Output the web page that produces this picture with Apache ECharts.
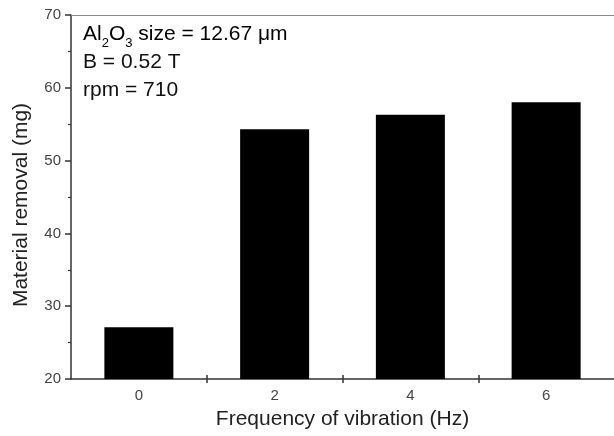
<!DOCTYPE html>
<html>
<head>
<meta charset="utf-8">
<script src="https://cdn.jsdelivr.net/npm/echarts@6/dist/echarts.min.js"></script>
<style>
  html, body { margin: 0; padding: 0; background: #fff; }
  #main { width: 614px; height: 436px; }
</style>
</head>
<body>
<div id="main"></div>
<script>
// frequency (Hz) and material removal (mg)
var freq = [0, 2, 4, 6];
var removal = [27.1, 54.3, 56.3, 58.0];
var xLabels = [0, 2, 4, 6];
var xTicks = [1, 3, 5];
var noteLines = ['B = 0.52 T', 'rpm = 710'];

var font = '"Liberation Sans", Arial, sans-serif';
var barData = [];
for (var i = 0; i < freq.length; i++) {
    barData.push([freq[i], removal[i]]);
}

var myChart = echarts.init(document.getElementById('main'));
var option = {
    backgroundColor: '#fff',
    animation: false,
    grid: { left: 71, top: 15, bottom: 57, right: -8 },
    xAxis: [
        {
            type: 'value', min: -1, max: 7, position: 'bottom',
            name: 'Frequency of vibration (Hz)',
            nameLocation: 'middle', nameGap: 30,
            nameTextStyle: { fontFamily: font, fontSize: 21, color: '#222' },
            axisLine: { onZero: false, lineStyle: { color: '#333', width: 1.5 } },
            axisTick: { customValues: xTicks, length: 4, lineStyle: { color: '#333', width: 1.5 } },
            axisLabel: { customValues: xLabels, margin: 9, fontFamily: font, fontSize: 15, color: '#444' },
            splitLine: { show: false }
        },
        {
            // inner half of the crossing ticks
            type: 'value', min: -1, max: 7, position: 'bottom',
            axisLine: { show: false, onZero: false },
            axisTick: { customValues: xTicks, inside: true, length: 4, lineStyle: { color: '#333', width: 1.5 } },
            axisLabel: { show: false },
            splitLine: { show: false }
        },
        {
            type: 'value', min: -1, max: 7, position: 'top',
            axisLine: { onZero: false, lineStyle: { color: '#888', width: 1.2 } },
            axisTick: { show: false },
            axisLabel: { show: false },
            splitLine: { show: false }
        }
    ],
    yAxis: {
        type: 'value', min: 20, max: 70, interval: 10,
        name: 'Material removal (mg)',
        nameLocation: 'middle', nameGap: 39,
        nameTextStyle: { fontFamily: font, fontSize: 21, color: '#222', padding: [0, 16, 0, 0] },
        axisLine: { show: true, onZero: false, lineStyle: { color: '#333', width: 1.5 } },
        axisTick: { length: 6, lineStyle: { color: '#333', width: 1.5 } },
        minorTick: { show: true, splitNumber: 2, length: 3, lineStyle: { color: '#333', width: 1.2 } },
        axisLabel: { margin: 10, fontFamily: font, fontSize: 15, color: '#444' },
        splitLine: { show: false }
    },
    graphic: [
        {
            type: 'text', left: 83, top: 24,
            style: {
                text: '{n|Al}{s|2}{n|O}{s|3}{n| size = 12.67 μm}',
                rich: {
                    n: { fontFamily: font, fontSize: 21, color: '#111', lineHeight: 25, verticalAlign: 'bottom' },
                    s: { fontFamily: font, fontSize: 13, color: '#111', lineHeight: 25, verticalAlign: 'bottom', padding: [0, 0, -5, 0] }
                }
            }
        },
        {
            type: 'text', left: 83, top: 52,
            style: { text: noteLines[0], fontFamily: font, fontSize: 21, fill: '#111' }
        },
        {
            type: 'text', left: 83, top: 80,
            style: { text: noteLines[1], fontFamily: font, fontSize: 21, fill: '#111' }
        }
    ],
    series: [{
        type: 'bar',
        xAxisIndex: 0,
        barWidth: 69,
        itemStyle: { color: '#000' },
        data: barData
    }]
};
myChart.setOption(option);
</script>
</body>
</html>
